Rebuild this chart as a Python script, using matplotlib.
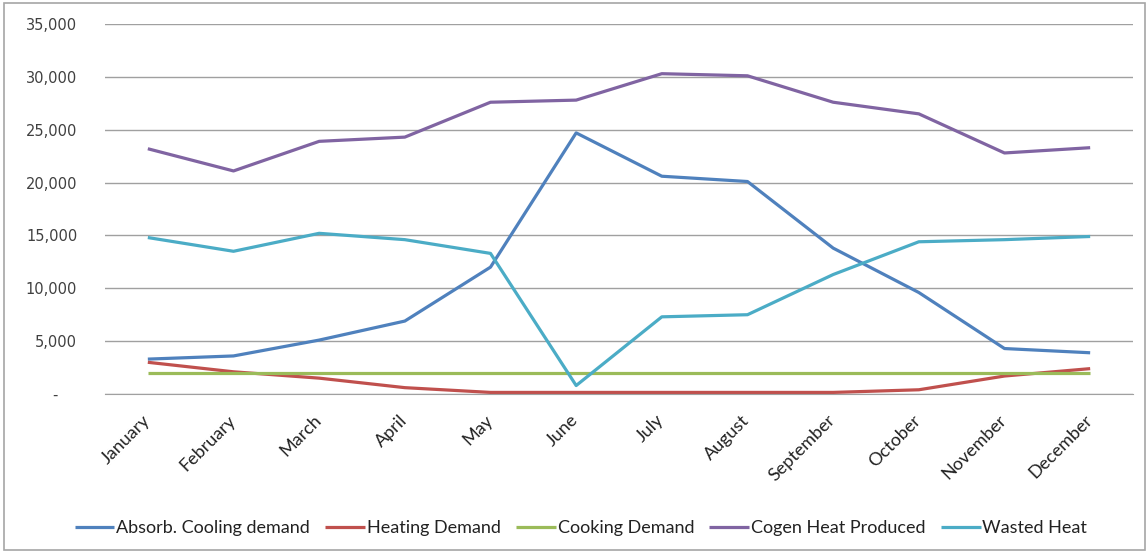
import matplotlib
matplotlib.use("Agg")
import matplotlib.pyplot as plt
from matplotlib.patches import Rectangle
from matplotlib.transforms import ScaledTranslation

months = ["January", "February", "March", "April", "May", "June", "July",
          "August", "September", "October", "November", "December"]

absorb_cooling = [3300, 3600, 5100, 6900, 12000, 24700, 20600, 20100, 13800, 9600, 4300, 3900]
heating_demand = [3000, 2100, 1500, 600, 150, 150, 150, 150, 150, 400, 1700, 2400]
cooking_demand = [2000, 2000, 2000, 2000, 2000, 2000, 2000, 2000, 2000, 2000, 2000, 2000]
cogen_heat = [23200, 21100, 23900, 24300, 27600, 27800, 30300, 30100, 27600, 26500, 22800, 23300]
wasted_heat = [14800, 13500, 15200, 14600, 13300, 800, 7300, 7500, 11300, 14400, 14600, 14900]

series = [
    ("Absorb. Cooling demand", absorb_cooling, "#4F81BD"),
    ("Heating Demand", heating_demand, "#C0504D"),
    ("Cooking Demand", cooking_demand, "#9BBB59"),
    ("Cogen Heat Produced", cogen_heat, "#8064A2"),
    ("Wasted Heat", wasted_heat, "#4BACC6"),
]

yticks = [0, 5000, 10000, 15000, 20000, 25000, 30000, 35000]

W, H = 1148, 556
fig = plt.figure(figsize=(W / 100, H / 100), dpi=100)
fig.patch.set_facecolor("white")

# outer chart frame
fig.patches.append(Rectangle((4 / W, 6 / H), 1141 / W, 547 / H, transform=fig.transFigure,
                             fill=False, edgecolor="#A6A6A6", linewidth=1.2))

ax = fig.add_axes([105 / W, 1 - 394 / H, 1028 / W, 370 / H])

x = list(range(len(months)))
for name, vals, color in series:
    ax.plot(x, vals, color=color, linewidth=2.3, label=name, solid_capstyle="butt",
            solid_joinstyle="round")

ax.set_xlim(-0.5, len(months) - 0.5)
ax.set_ylim(0, 35000)
ax.set_yticks(yticks)
ax.set_yticklabels(["-    "] + [f"{v:,}" for v in yticks[1:]],
                   fontfamily="DejaVu Sans", fontsize=10.5, color="#404040")
ax.yaxis.grid(True, color="#A0A0A0", linewidth=1.0)
ax.set_axisbelow(True)
for s in ["left", "right", "top"]:
    ax.spines[s].set_visible(False)
ax.spines["bottom"].set_color("#A0A0A0")
ax.tick_params(axis="y", length=0, pad=20)
ax.tick_params(axis="x", length=0, pad=13)

ax.set_xticks(x)
ax.set_xticklabels(months, rotation=45, ha="right", rotation_mode="anchor",
                   fontfamily="Lato", fontsize=13, color="#222222")
shift = ScaledTranslation(-6 / 100, 0, fig.dpi_scale_trans)
for lbl in ax.get_xticklabels():
    lbl.set_transform(lbl.get_transform() + shift)

handles, labels = ax.get_legend_handles_labels()
fig.legend(handles, labels, loc="center", bbox_to_anchor=(581 / W, 1 - 528 / H), ncol=5,
           frameon=False, prop={"family": "Lato", "size": 13}, handlelength=2.2,
           handletextpad=0.1, columnspacing=0.85, labelcolor="#222222")

fig.savefig("out.png", dpi=100)
